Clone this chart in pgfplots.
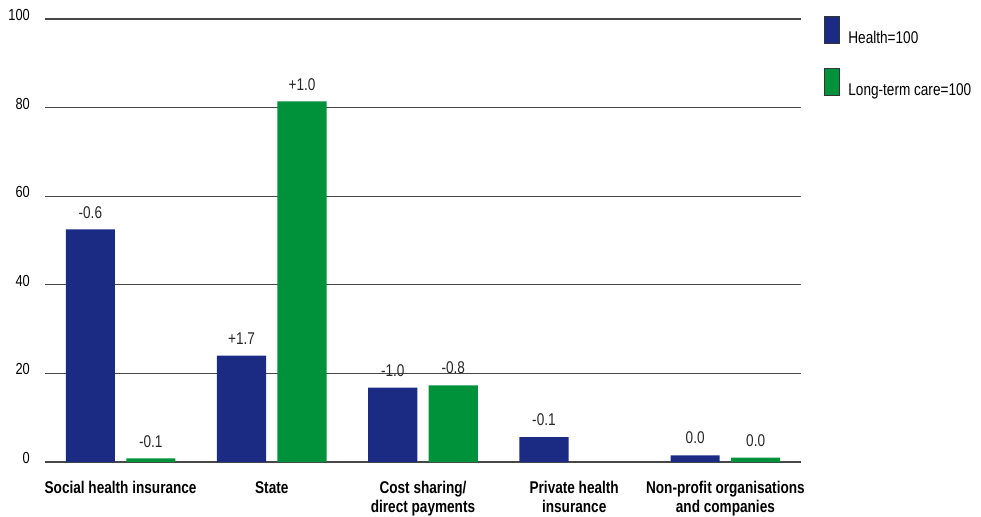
\documentclass[border=0pt]{standalone}
\usepackage{fontspec}
\setmainfont{Liberation Sans}[FakeStretch=0.8]
\usepackage{pgfplots}
\pgfplotsset{compat=1.18}
\usepackage{pgfplotstable}
\definecolor{hblue}{RGB}{27,42,130}
\definecolor{lgreen}{RGB}{0,146,59}

\pgfplotstableread{
x y lab
0 52.5 -0.6
1 24.0 +1.7
2 16.8 -1.0
3 5.6 -0.1
4 1.5 0.0
}\health
\pgfplotstableread{
x y lab
0 0.8 -0.1
1 81.4 +1.0
2 17.3 -0.8
4 1.0 0.0
}\ltc

\begin{document}
\begin{tikzpicture}
\useasboundingbox (0,0) rectangle (981bp,517bp);
\begin{axis}[
  at={(45bp,55bp)}, anchor=south west,
  scale only axis, width=756bp, height=443bp,
  xmin=-0.5, xmax=4.5, ymin=0, ymax=100,
  clip=false,
  axis line style={draw=none},
  tick style={draw=none},
  ytick={0,20,40,60,80,100},
  ymajorgrids,
  major grid style={draw=black!72, line width=1.2bp},
  xtick={0,1,2,3,4},
  xticklabels={{Social health insurance},{State},{Cost sharing/\\direct payments},{Private health\\insurance},{Non-profit organisations\\and companies}},
  xticklabel style={font=\fontsize{17bp}{19bp}\selectfont\bfseries, align=center, inner sep=0pt, anchor=north, yshift=-15bp},
  yticklabel style={font=\fontsize{16bp}{18bp}\selectfont, anchor=east, inner sep=0pt, xshift=-15bp, yshift=4bp},
  /pgf/number format/assume math mode=true,
  ybar, bar width=0.325,
  nodes near coords, point meta=explicit symbolic,
  every node near coord/.append style={font=\fontsize{17bp}{19bp}\selectfont, text=black!85, anchor=south, inner sep=0pt, yshift=11bp},
  legend style={at={(1.0304,1.0068)}, anchor=north west, draw=none, fill=none, inner sep=0pt, outer sep=0pt,
    font=\fontsize{17bp}{19bp}\selectfont, row sep=23bp, cells={anchor=base west}, nodes={inner sep=0pt}},
  legend image code/.code={\draw[#1, draw=black!80, line width=0.8bp] (0bp,0bp) rectangle (15bp,27bp); \path (24bp,0bp);},
]
\addplot[fill=hblue, draw=none, bar shift=-0.2] table[x=x, y=y, meta=lab]{\health};
\addlegendentry{Health=100}
\addplot[fill=lgreen, draw=none, bar shift=0.2] table[x=x, y=y, meta=lab]{\ltc};
\addlegendentry{Long-term care=100}
\end{axis}
\end{tikzpicture}
\end{document}
